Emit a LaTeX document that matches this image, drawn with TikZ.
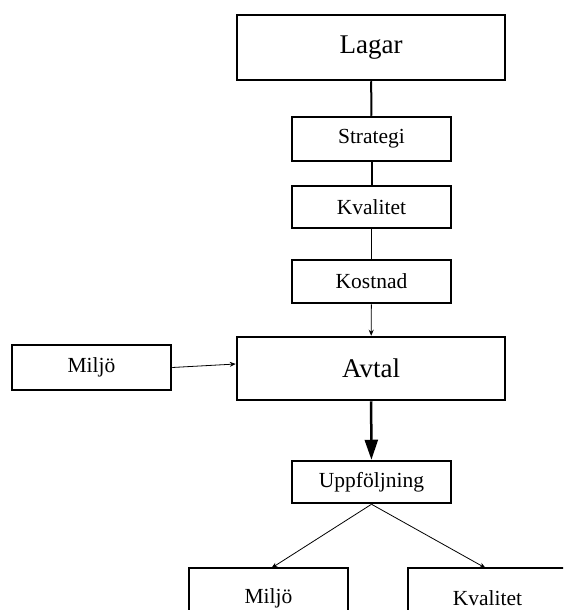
\documentclass[tikz,border=0pt]{standalone}
\usepackage{fontspec}
\setmainfont{Liberation Serif}
\usetikzlibrary{arrows.meta}
\begin{document}
\begin{tikzpicture}[x=1pt,y=-1pt,
  box/.style={draw, line width=2.5pt, rectangle, inner sep=0pt, font=\fontsize{21.5}{24}\selectfont},
  bigbox/.style={box, minimum width=268pt, minimum height=65pt, font=\fontsize{27}{30}\selectfont},
  smallbox/.style={box, minimum width=159pt, minimum height=43pt},
  label/.style={inner sep=0pt, font=\fontsize{21.5}{24}\selectfont},
  border/.style={line width=2.5pt},
  thinline/.style={line width=0.8pt},
  midline/.style={line width=2pt},
  smalltip/.style={-{Stealth[length=6pt,width=5pt]}},
  bigtip/.style={line width=2.5pt, -{Triangle[length=20pt,width=13pt]}},
]
\useasboundingbox (0,0) rectangle (563,610);
\clip (0,0) rectangle (563,610);
\fill[white] (0,0) rectangle (563,610);
\node[bigbox] (lagar) at (371,47.5) {Lagar};
\node[smallbox, minimum height=44pt] (strategi) at (371.5,139) {Strategi};
\node[smallbox, minimum height=42pt] (kval1) at (371.5,207) {Kvalitet};
\node[smallbox] (kostnad) at (371.5,281.5) {Kostnad};
\node[bigbox, minimum height=63pt] (avtal) at (371,368.5) {Avtal};
\node[smallbox, minimum height=45pt] (miljo1) at (91.5,367.5) {Miljö};
\node[smallbox, minimum height=42pt] (uppf) at (371.5,482) {Uppföljning};
% bottom boxes, cut off by the lower edge
\coordinate (miljo2top) at (271.5,568);
\coordinate (kval2top) at (485.5,568);
\draw[border] (189,640) -- (189,568) -- (348,568) -- (348,640);
\draw[border] (408,640) -- (408,568) -- (567,568) -- (567,640);
\node[label] (miljo2) at (268.5,598) {Miljö};
\node[label] (kval2) at (487.5,598) {Kvalitet};
\draw[midline] (lagar) -- (strategi);
\draw[midline] (strategi) -- (kval1);
\draw[thinline] (kval1) -- (kostnad);
\draw[thinline, smalltip] (kostnad) -- (avtal);
\draw[thinline, smalltip] (miljo1.east) -- ([yshift=4.5pt]avtal.west);
\draw[bigtip] (avtal) -- (uppf);
\draw[thinline, smalltip] (uppf.south) -- (miljo2top);
\draw[thinline, smalltip] (uppf.south) -- (kval2top);
\end{tikzpicture}
\end{document}
